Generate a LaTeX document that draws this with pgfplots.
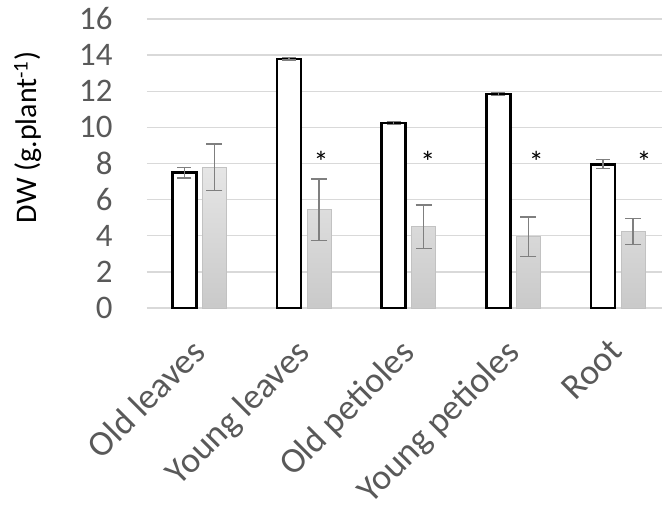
\documentclass[border=0pt]{standalone}
\usepackage{pgfplots}
\pgfplotsset{compat=1.18}
\usepackage{fontspec}
\setmainfont{Carlito}
\definecolor{gridc}{HTML}{D9D9D9}
\definecolor{tickc}{HTML}{595959}
\definecolor{errc}{HTML}{7F7F7F}
\begin{document}
\begin{tikzpicture}
\begin{axis}[
  name=ax,
  scale only axis,
  width=515bp, height=289bp,
  xmin=-0.5, xmax=4.42,
  ymin=0, ymax=16,
  ytick={0,2,...,16},
  xtick={0,1,2,3,4},
  xticklabels={Old leaves,Young leaves,Old petioles,Young petioles,Root},
  axis line style={draw=none},
  ymajorgrids, grid style={gridc, line width=1.5pt},
  major tick length=0pt,
  tick style={draw=none},
  yticklabel style={font=\fontsize{33}{36}\selectfont, text=tickc, xshift=-31bp},
  xticklabel style={font=\fontsize{36}{40}\selectfont, text=tickc, rotate=45, anchor=north east, xshift=-24bp, yshift=-10bp},
  ylabel={DW (g.plant\textsuperscript{-1})},
  ylabel style={font=\fontsize{30}{32}\selectfont, at={(axis description cs:-0.231,0.59)}, anchor=center},
  /pgf/number format/assume math mode=true,
  clip=false,
]
% white bars
\addplot[ybar, bar width=24bp, bar shift=0pt, fill=white, draw=black, line width=2.6pt,
  error bars/.cd, y dir=both, y explicit, error bar style={errc, line width=1.5pt}, error mark options={errc, line width=1.5pt, mark size=7bp, rotate=90}]
  coordinates {(-0.1433,7.49) +- (0,0.30) (0.8567,13.79) +- (0,0.07) (1.8567,10.25) +- (0,0.08) (2.8567,11.85) +- (0,0.08) (3.8567,7.96) +- (0,0.25)};
% gray bars
\addplot[ybar, bar width=24bp, bar shift=0pt, top color=gray!20, bottom color=gray!42, draw=gray!48, line width=1pt,
  error bars/.cd, y dir=both, y explicit, error bar style={errc, line width=1.5pt}, error mark options={errc, line width=1.5pt, mark size=8bp, rotate=90}]
  coordinates {(0.1433,7.79) +- (0,1.28) (1.1433,5.43) +- (0,1.70) (2.1433,4.50) +- (0,1.20) (3.1433,3.95) +- (0,1.10) (4.1433,4.23) +- (0,0.72)};
% significance asterisks
\addplot[draw=none, mark=none, nodes near coords={*}, every node near coord/.style={font=\fontsize{30}{30}\selectfont, anchor=center, text=black}]
  coordinates {(1.162,8.08) (2.182,8.08) (3.22,8.08) (4.248,8.08)};
\end{axis}
\pgfresetboundingbox
\path[use as bounding box] ([shift={(-147bp,-207bp)}]ax.south west) rectangle ([shift={(516bp,19bp)}]ax.north west);
\end{tikzpicture}
\end{document}
